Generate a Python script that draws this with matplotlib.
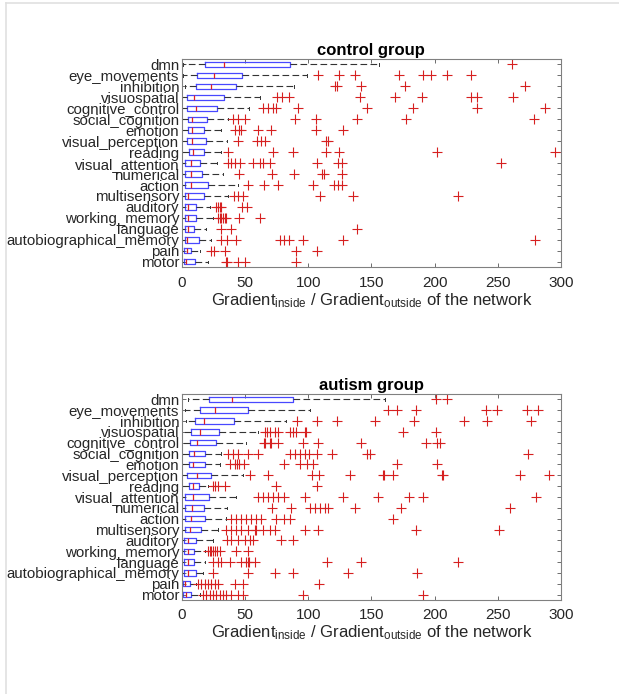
import matplotlib
matplotlib.use("Agg")
import matplotlib.pyplot as plt
from matplotlib.lines import Line2D
import numpy as np

plt.rcParams["font.family"] = ["Liberation Sans", "DejaVu Sans"]
plt.rcParams["mathtext.default"] = "regular"

names = ["dmn", "eye_movements", "inhibition", "visuospatial", "cognitive_control",
         "social_cognition", "emotion", "visual_perception", "reading", "visual_attention",
         "numerical", "action", "multisensory", "auditory", "working_memory", "language",
         "autobiographical_memory", "pain", "motor"]

# control group
ctrl_wlo = [0.8, 1.0, 2.5, 0.3, 0.3, 0.3, 0.3, 0.3, 0.3, 0.3, 0.3, 0.3, 0.3, 0.3, 0.3, 0.3, 0.3, 0.3, 0.3]
ctrl_q1 = [18.5, 11.6, 11.3, 4.2, 4.2, 4.7, 4.7, 4.2, 5.3, 2.6, 2.6, 2.6, 2.6, 2.6, 2.6, 2.6, 2.6, 1.6, 1.6]
ctrl_med = [33, 25.3, 22.7, 9.5, 11.3, 7.9, 7.9, 7.9, 8.7, 7.4, 7.4, 7.4, 4.7, 4.7, 4.7, 4.7, 4.2, 4.2, 3.4]
ctrl_q3 = [85.7, 47.8, 42.7, 33, 27.4, 19.5, 17.2, 19.3, 17.2, 14.5, 16.1, 20.6, 17.2, 11.3, 11.3, 9.5, 13.2, 6.9, 10.6]
ctrl_whi = [156, 99, 88.4, 62, 53, 36.4, 31, 36, 31, 28, 32.5, 44.3, 36.4, 22, 24.5, 19.3, 22.7, 14, 20.6]
ctrl_out = [
    [261],
    [108, 124.5, 137, 172, 191, 197, 210, 229],
    [121, 122.5, 141.7, 176.5, 271.5],
    [75.5, 79, 84.4, 141, 168.6, 190.2, 228.8, 233.3, 261.8],
    [64.4, 68, 72.3, 74.4, 91.6, 146.2, 183.1, 234, 287.3],
    [40.6, 44, 49.9, 89.4, 106, 138.8, 177.3, 278.9],
    [42.2, 45, 46.4, 60, 70.7, 105.8, 127.7],
    [44.3, 59.4, 62.8, 66, 114, 115.3],
    [36.4, 72, 87.9, 114, 124.5, 201.6, 295.3],
    [36.4, 39, 41.7, 45.6, 56.2, 61.5, 64, 69.4, 106.6, 123.7, 126.4, 252.5],
    [45, 71.5, 89, 110.6, 112.4, 126.4],
    [52, 65, 76, 104, 120.6, 123.5, 126.4],
    [41, 44.3, 48.3, 109.2, 135.6, 218.7],
    [27.2, 28.5, 29.8, 31.1, 47.8, 51.7],
    [28.5, 30, 31.1, 32.5, 33.8, 35, 45, 61.5],
    [30.6, 38.5, 138.3],
    [30.6, 35.6, 42.5, 78, 81, 85, 95.8, 127.7, 279.4],
    [23.2, 25.3, 33.8, 90.5, 107],
    [34.6, 35.9, 44.3, 49.6, 90.5],
]

# autism group
aut_wlo = [4.7, 2.4, 2.9, 0.3, 0.3, 0.3, 0.3, 0.3, 0.3, 0.3, 0.3, 0.3, 0.3, 0.3, 0.3, 0.3, 0.3, 0.3, 0.3]
aut_q1 = [21, 14, 10.6, 7.4, 6, 5.5, 5.5, 4.2, 5.3, 2.6, 2.6, 2.6, 2.6, 1.6, 1.6, 1.6, 1.6, 0.8, 0.8]
aut_med = [39.6, 25.9, 17.2, 14, 11.9, 9.2, 8.7, 11.9, 8.7, 8.7, 7.9, 6.9, 6, 4.7, 4.7, 4.7, 4.7, 2.6, 3.4]
aut_q3 = [88, 52.2, 40.9, 29, 27.2, 18, 18, 23.2, 13.2, 21.1, 17.4, 18, 14.8, 11.3, 9.5, 9.5, 11.3, 6, 7.4]
aut_whi = [160.7, 101, 82.6, 60, 51, 30.6, 29.8, 48.3, 20.6, 43, 35.9, 35, 28.5, 24.5, 18.5, 18, 16.6, 11.3, 14]
aut_out = [
    [201, 209.5],
    [163.3, 170, 185, 240.4, 249.6, 273.6, 282],
    [91.3, 106.6, 122.4, 152.8, 183.9, 223.5, 241.2, 276.3],
    [65.4, 67.5, 70, 73.4, 76, 85.2, 87.9, 90.5, 97.1, 98.4, 174.7, 201],
    [65, 66, 69.4, 70.7, 76, 96, 107.9, 141.5, 193.1, 201.6, 204.2],
    [36.4, 40.4, 44.3, 52.2, 60.2, 85.2, 89.2, 93.1, 97.1, 100.8, 106.6, 118.5, 146.2, 148.8, 274.1],
    [37.7, 42.2, 43.5, 44.9, 49, 80.7, 93.4, 98.7, 104, 170, 202.1],
    [53.6, 68, 102.6, 108.7, 133, 158.9, 159.9, 167.3, 205.6, 206.9, 267.6, 290.8],
    [24.5, 26.4, 28.5, 33.8, 74.7, 106.6],
    [60.2, 64.1, 68, 72, 76, 80.7, 97.4, 127.7, 155.4, 179.9, 190.5, 280.2],
    [71.5, 86.5, 101.3, 105.3, 109, 113.2, 115.8, 137, 173.1, 259.6],
    [39, 43, 47, 51, 55, 58.8, 62.8, 74.7, 80.7, 85.2, 166.8],
    [35, 39, 43, 47, 52, 57.5, 58.8, 64, 69.4, 73.4, 97.4, 107.9, 185.2, 250.9],
    [35.9, 39, 44.3, 49.6, 53.6, 56.2, 78.6, 87.9],
    [20.6, 21.9, 23.2, 24.5, 25.9, 28, 29.8, 43, 52.2],
    [24.5, 28.5, 31.1, 37.7, 47, 51, 52.2, 52.8, 57.5, 114.5, 141.7, 218.7],
    [24.5, 52.2, 74, 87.9, 131.1, 185.8],
    [12.7, 15.3, 17.9, 20.6, 23.2, 25.9, 28.5, 41.7, 48.3, 108.4],
    [16.6, 19.3, 21.9, 24.5, 27.2, 29.8, 32.5, 35, 39, 44.3, 48.3, 96, 190.5],
]

xticks = [0, 50, 100, 150, 200, 250, 300]
xlabel = r"Gradient$_{inside}$ / Gradient$_{outside}$ of the network"


def make_stats(wlo, q1, med, q3, whi, out):
    stats = []
    for i in range(len(names)):
        stats.append(dict(label=names[i], whislo=wlo[i], q1=q1[i], med=med[i],
                          q3=q3[i], whishi=whi[i], fliers=np.array(out[i])))
    return stats


def draw(ax, stats, title):
    pos = np.arange(1, len(names) + 1)
    ax.bxp(stats, positions=pos, orientation="horizontal", widths=0.5, capwidths=0.22,
           boxprops=dict(color="#4848ff", linewidth=0.9),
           medianprops=dict(color="#e02020", linewidth=0.9),
           whiskerprops=dict(color="#333333", linestyle=(0, (6, 3)), linewidth=0.8),
           capprops=dict(color="#333333", linewidth=0.7),
           flierprops=dict(marker="+", markeredgecolor="#d62020", markersize=7,
                           markeredgewidth=0.8, linestyle="none"))
    ax.set_xlim(0, 300)
    ax.set_ylim(len(names) + 0.5, 0.5)
    ax.set_xticks(xticks)
    ax.set_yticks(pos)
    ax.set_yticklabels(names)
    ax.tick_params(axis="both", direction="in", top=True, right=True, length=3,
                   width=0.6, color="#555555", labelcolor="#262626")
    ax.tick_params(axis="y", labelsize=10.8, pad=2)
    ax.tick_params(axis="x", labelsize=11, pad=6)
    for s in ax.spines.values():
        s.set_color("#808080")
        s.set_linewidth(0.8)
    ax.set_title(title, fontweight="bold", fontsize=12, pad=3)
    ax.set_xlabel(xlabel, fontsize=12, color="#262626", labelpad=1)


fig = plt.figure(figsize=(6.19, 6.94), dpi=100)
ax1 = fig.add_axes([0.294, 0.615, 0.612, 0.300])
ax2 = fig.add_axes([0.294, 0.1354, 0.612, 0.297])
draw(ax1, make_stats(ctrl_wlo, ctrl_q1, ctrl_med, ctrl_q3, ctrl_whi, ctrl_out), "control group")
draw(ax2, make_stats(aut_wlo, aut_q1, aut_med, aut_q3, aut_whi, aut_out), "autism group")

# light frame of the screenshot
fig.add_artist(Line2D([0.0097, 0.0097], [0, 0.996], transform=fig.transFigure,
                      color="#e0e0e0", linewidth=1.2))
fig.add_artist(Line2D([0.0097, 1.0], [0.996, 0.996], transform=fig.transFigure,
                      color="#e0e0e0", linewidth=1.2))

fig.savefig("out.png", dpi=100)
